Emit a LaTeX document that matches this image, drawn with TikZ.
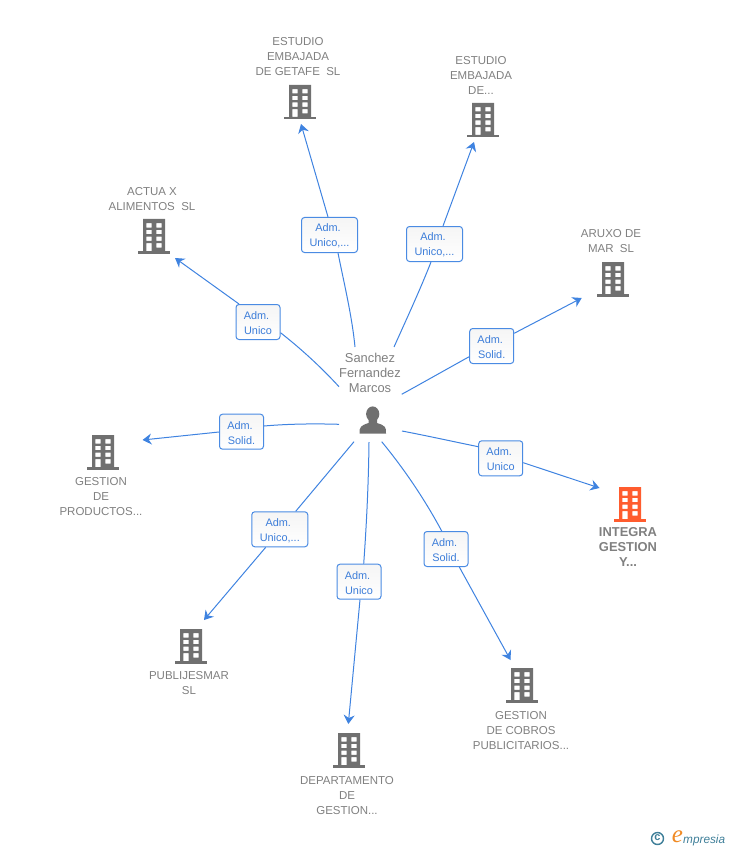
\documentclass[tikz,border=0pt]{standalone}
\usepackage{fontspec}
\setmainfont{Liberation Sans}
\newfontfamily\logoserif{Liberation Serif}
\usetikzlibrary{arrows.meta}
\definecolor{edgeblue}{HTML}{3F83E0}
\definecolor{boxblue}{HTML}{4A8BE3}
\definecolor{boxtop}{HTML}{F5F5F5}
\definecolor{labelblue}{HTML}{3C7DD9}
\definecolor{txtgrey}{HTML}{808080}
\definecolor{icongrey}{HTML}{707070}
\definecolor{iconred}{HTML}{FF5C2E}
\definecolor{logoteal}{HTML}{3F7F99}
\definecolor{logoorange}{HTML}{F08A24}
\newcommand{\admline}{\rule{0pt}{10pt}Adm.\kern3pt}
\tikzset{
  x=1pt,y=-1pt,
  edgeline/.style={draw=edgeblue,line width=1pt},
  arrowline/.style={edgeline,-{Stealth[length=9pt,width=11pt,inset=3pt]}},
  rolebox/.style={draw=boxblue,line width=1pt,rounded corners=3pt,top color=boxtop,bottom color=white,text=labelblue,
    inner sep=0pt,minimum height=35pt,align=center,font=\fontsize{10.9}{15}\selectfont},
  rolewide/.style={rolebox,minimum width=56pt},
  rolenarrow/.style={rolebox,minimum width=44pt},
  companytext/.style={text=txtgrey,inner sep=0pt,align=center,font=\fontsize{11.5}{15}\selectfont},
  maintext/.style={text=txtgrey,inner sep=0pt,align=center,font=\fontsize{12.9}{15}\selectfont\bfseries},
  persontext/.style={text=txtgrey,inner sep=0pt,align=center,font=\fontsize{12.9}{15}\selectfont},
  pics/building/.style={code={
    \fill[#1,even odd rule]
      (-11,-17) rectangle (11,15)
      (-7.6,-12.9) rectangle (-2.5,-8.5) (2.3,-12.9) rectangle (7.5,-8.5)
      (-7.6,-6.2) rectangle (-2.5,-1.8) (2.3,-6.2) rectangle (7.5,-1.8)
      (-7.6,0.5) rectangle (-2.5,4.9) (2.3,0.5) rectangle (7.5,4.9)
      (-7.6,7.1) rectangle (-2.5,15) (2.3,7.1) rectangle (7.5,11.5);
    \fill[#1] (-16,14.6) rectangle (16,17.5);
  }}
}
\begin{document}
\begin{tikzpicture}
\useasboundingbox (0,0) rectangle (728,850);
% free ends at the person
\coordinate (s1) at (355,347);
\coordinate (s2) at (394,347);
\coordinate (s3) at (339,386.7);
\coordinate (s4) at (401.7,394.3);
\coordinate (s5) at (339,424.3);
\coordinate (s6) at (402,431);
\coordinate (s7) at (381.7,441.7);
\coordinate (s8) at (369,442);
\coordinate (s9) at (354,441.7);
% arrow tips at the companies
\coordinate (t1) at (301,124);
\coordinate (t2) at (474,142);
\coordinate (t3) at (175,258);
\coordinate (t4) at (581.7,298);
\coordinate (t5) at (142.5,440);
\coordinate (t6) at (599.5,488);
\coordinate (t7) at (510.5,660);
\coordinate (t8) at (348.3,724);
\coordinate (t9) at (204,620);
% role boxes
\node[rolewide]   (r1) at (329.5,235) {\admline\\Unico,...};
\node[rolewide]   (r2) at (434.5,244) {\admline\\Unico,...};
\node[rolenarrow] (r3) at (258,322)   {\admline\\Unico};
\node[rolenarrow] (r4) at (491.7,346) {\admline\\Solid.};
\node[rolenarrow] (r5) at (241.5,431.7) {\admline\\Solid.};
\node[rolenarrow] (r6) at (500.7,458.3) {\admline\\Unico};
\node[rolenarrow] (r7) at (446,549)   {\admline\\Solid.};
\node[rolenarrow] (r8) at (359,581.7) {\admline\\Unico};
\node[rolewide]   (r9) at (279.8,529.3) {\admline\\Unico,...};
% connectors
\draw[edgeline] (s1) .. controls (352,316) and (344,283) .. (r1.south -| 338,0);
\draw[edgeline] (s2) .. controls (407,318) and (420,290) .. (r2.south -| 431,0);
\draw[edgeline] (s3) .. controls (320,366) and (300,348) .. (r3.east |- 0,332.7);
\draw[edgeline] (s4) .. controls (424,382) and (447,369) .. (r4.west |- 0,356.7);
\draw[edgeline] (s5) .. controls (312,423.5) and (287,424) .. (r5.east |- 0,426);
\draw[edgeline] (s6) .. controls (428,436) and (453,441.5) .. (r6.west |- 0,446.7);
\draw[edgeline] (s7) .. controls (405,470) and (425,500) .. (r7.north -| 441.7,0);
\draw[edgeline] (s8) .. controls (368.5,484) and (366.5,525) .. (r8.north -| 363.7,0);
\draw[edgeline] (s9) -- (r9.north -| 295.7,0);
\draw[arrowline] (r1.north -| 328,0) -- (t1);
\draw[arrowline] (r2.north -| 443,0) -- (t2);
\draw[arrowline] (r3.north -| 239,0) -- (t3);
\draw[arrowline] (r4.east |- 0,333.3) -- (t4);
\draw[arrowline] (r5.west |- 0,432) -- (t5);
\draw[arrowline] (r6.east |- 0,462.7) -- (t6);
\draw[arrowline] (r7.south -| 459.3,0) -- (t7);
\draw[arrowline] (r8.south -| 360,0) -- (t8);
\draw[arrowline] (r9.south -| 265.7,0) -- (t9);
% company icons
\pic at (300,102) {building=icongrey};
\pic at (483,120) {building=icongrey};
\pic at (154,236) {building=icongrey};
\pic at (613,279) {building=icongrey};
\pic at (103,452) {building=icongrey};
\pic at (630,504) {building=iconred};
\pic at (522,685) {building=icongrey};
\pic at (349,750) {building=icongrey};
\pic at (191,646) {building=icongrey};
% company names
\node[companytext] (c1) at (298,57)  {ESTUDIO\\EMBAJADA\\DE GETAFE\ \ SL};
\node[companytext] (c2) at (481,75)  {ESTUDIO\\EMBAJADA\\DE...};
\node[companytext] (c3) at (152,199.5) {ACTUA X\\ALIMENTOS\ \ SL};
\node[companytext] (c4) at (611,241.5) {ARUXO DE\\MAR\ \ SL};
\node[companytext] (c5) at (101,497) {GESTION\\DE\\PRODUCTOS...};
\node[maintext]    (c6) at (628,547) {INTEGRA\\GESTION\\Y...};
\node[companytext] (c7) at (521,731) {GESTION\\DE COBROS\\PUBLICITARIOS...};
\node[companytext] (c8) at (347,796) {DEPARTAMENTO\\DE\\GESTION...};
\node[companytext] (c9) at (189,683.5) {PUBLIJESMAR\\SL};
% person
\node[persontext] (p) at (370,373) {Sanchez\\Fernandez\\Marcos};
\fill[icongrey] (372.7,414) ellipse[x radius=6.6,y radius=7.6];
\fill[icongrey] (359.5,433.5) .. controls (359,427) and (361,425.5) .. (368.5,423) -- (368.5,418)
  -- (377,418) -- (377,423) .. controls (385,425.5) and (386.5,427) .. (386,433.5) -- cycle;
% logo
\draw[logoteal,line width=1.4pt] (657.5,838.5) circle[radius=6];
\node[text=logoteal,inner sep=0pt,font=\fontsize{11}{11}\selectfont\bfseries] (lc) at (657.5,838) {c};
\node[text=logoorange,inner sep=0pt,font=\fontsize{25}{25}\selectfont\logoserif\itshape] (le) at (677.5,836.5) {e};
\node[text=logoteal,inner sep=0pt,anchor=base west,font=\fontsize{11.8}{14}\itshape] (lm) at (683,843) {mpresia};
\end{tikzpicture}
\end{document}
